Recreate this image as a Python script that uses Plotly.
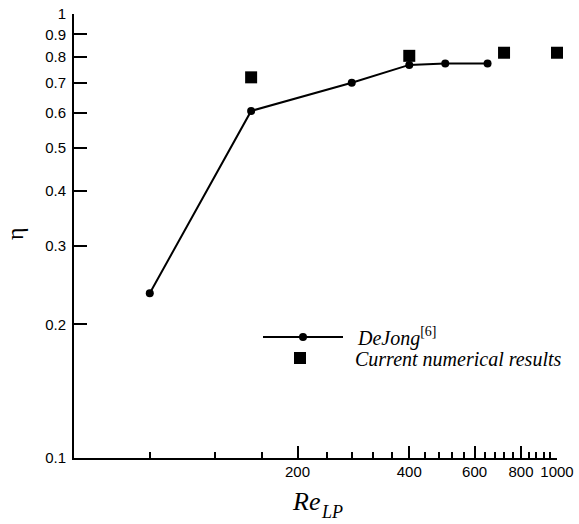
import numpy as np
import plotly.graph_objects as go

dejong_re = [80, 150, 280, 400, 500, 650]
dejong_eta = [0.235, 0.605, 0.70, 0.768, 0.774, 0.774]
current_re = [150, 400, 720, 1000]
current_eta = [0.72, 0.805, 0.818, 0.818]

x_major = [200, 400, 600, 800, 1000]
x_minor = [80, 120, 160, 240, 280, 320, 360, 440, 480, 520, 560,
           640, 680, 720, 760, 840, 880, 920, 960]
y_ticks = [0.1, 0.2, 0.3, 0.4, 0.5, 0.6, 0.7, 0.8, 0.9, 1]
y_labels = ["0.1", "0.2", "0.3", "0.4", "0.5", "0.6", "0.7", "0.8", "0.9", "1"]

W, H = 579, 524
ml, mr, mt, mb = 74, 22, 14, 66
pw = W - ml - mr
ph = H - mt - mb

def px(xp):
    return (xp - ml) / pw

def py(yp):
    return (H - mb - yp) / ph

NB = "\u00a0\u00a0"
serif = "Liberation Serif, Times New Roman"
sans = "Liberation Sans, Arial"

fig = go.Figure()
fig.add_trace(go.Scatter(
    x=dejong_re, y=dejong_eta, mode="lines+markers",
    name=NB + "<i>DeJong</i><sup>[6]</sup>",
    line=dict(color="black", width=2),
    marker=dict(symbol="circle", size=8, color="black"),
    cliponaxis=False, legend="legend",
))
fig.add_trace(go.Scatter(
    x=current_re, y=current_eta, mode="markers",
    name=NB + "<i>Current numerical results</i>",
    marker=dict(symbol="square", size=12, color="black"),
    cliponaxis=False, legend="legend2",
))

leg_common = dict(
    xanchor="left", yanchor="middle",
    bgcolor="rgba(0,0,0,0)", borderwidth=0,
    font=dict(family=serif, size=20, color="black"),
    itemwidth=80, tracegroupgap=0,
)

fig.update_layout(
    width=W, height=H,
    margin=dict(l=ml, r=mr, t=mt, b=mb, pad=0, autoexpand=False),
    paper_bgcolor="white", plot_bgcolor="white",
    font=dict(family=sans, size=15, color="black"),
    showlegend=True,
    legend=dict(x=px(258), y=py(337), **leg_common),
    legend2=dict(x=px(255), y=py(358), **leg_common),
    xaxis=dict(
        type="log", range=[np.log10(50), 3], automargin=False,
        showline=True, linecolor="black", linewidth=2,
        showgrid=False, zeroline=False, mirror=False,
        ticks="inside", ticklen=12, tickwidth=2, tickcolor="black",
        tickmode="array", tickvals=x_major, ticktext=[str(v) for v in x_major],
        tickfont=dict(family=sans, size=15),
        ticklabelstandoff=-1,
        minor=dict(tickmode="array", tickvals=x_minor, ticks="inside",
                   ticklen=6, tickwidth=2, tickcolor="black", showgrid=False),
    ),
    yaxis=dict(
        type="log", range=[-1, 0], automargin=False,
        showline=True, linecolor="black", linewidth=2,
        showgrid=False, zeroline=False, mirror=False,
        ticks="inside", ticklen=13, tickwidth=2, tickcolor="black",
        tickmode="array", tickvals=y_ticks, ticktext=y_labels,
        tickfont=dict(family=sans, size=15),
        ticklabelstandoff=3,
    ),
    annotations=[
        dict(text="η", xref="paper", yref="paper", x=px(15), y=py(234),
             xanchor="center", yanchor="middle", showarrow=False, textangle=-90,
             font=dict(family=serif, size=24, color="black")),
        dict(text="<i>Re</i>", xref="paper", yref="paper",
             x=px(290), y=py(501), xanchor="left", yanchor="middle", showarrow=False,
             font=dict(family=serif, size=26, color="black")),
        dict(text="<i>LP</i>", xref="paper", yref="paper",
             x=px(319), y=py(512), xanchor="left", yanchor="middle", showarrow=False,
             font=dict(family=serif, size=18, color="black")),
    ],
)

fig.write_html("out.html")
